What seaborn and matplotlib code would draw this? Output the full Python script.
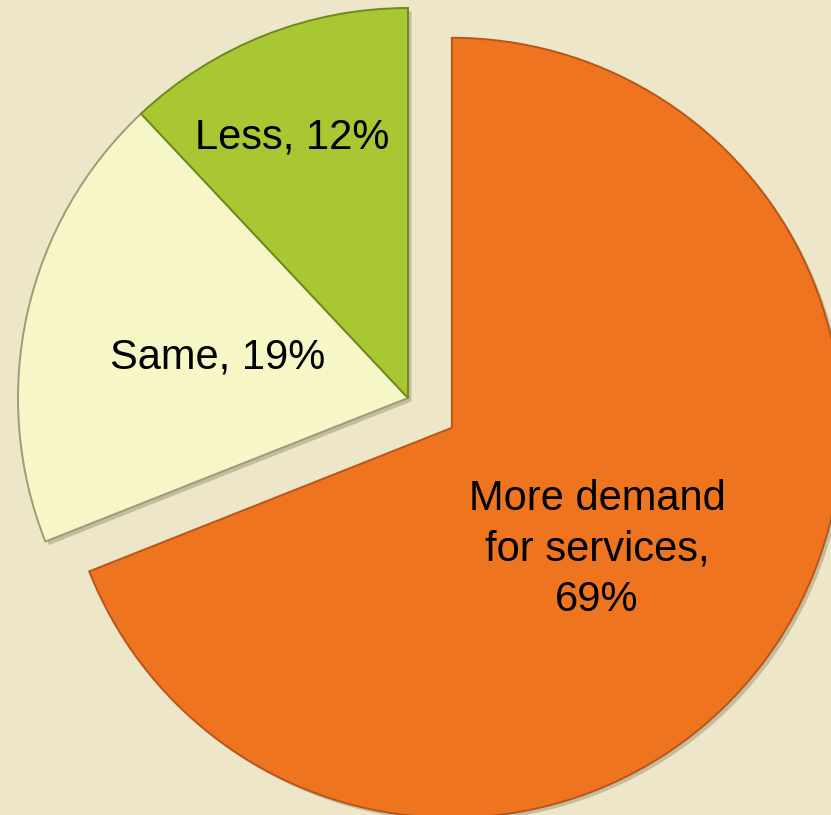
import matplotlib
matplotlib.use("Agg")
import matplotlib.pyplot as plt
import matplotlib.patheffects as pe
import numpy as np
import seaborn as sns

# Survey answers and their shares (percent)
categories = ["More demand\nfor services", "Same", "Less"]
shares = [69, 19, 12]
slice_colors = ["#EF7420", "#F6F6C6", "#A8C733"]
edge_colors = ["#B8561A", "#9A9C7A", "#6E8A1E"]

sns.set_theme(style="white")
plt.rcParams["font.family"] = ["Liberation Sans", "DejaVu Sans"]

bg = "#EEE6C8"
W, H = 831, 815
fig = plt.figure(figsize=(W / 100, H / 100), dpi=100, facecolor=bg)
ax = fig.add_axes([0, 0, 1, 1])
ax.set_facecolor(bg)

radius = 390
center = (408, 417)
explode = [53, 0, 0]

palette = sns.color_palette(slice_colors)
wedges, _ = ax.pie(
    shares,
    colors=palette,
    startangle=90,
    counterclock=False,
    radius=radius,
    center=center,
    explode=explode,
    frame=True,
    wedgeprops=dict(linewidth=1.4),
)
ax.set_xlim(0, W)
ax.set_ylim(0, H)
ax.set_aspect("equal")
ax.axis("off")

for w, ec in zip(wedges, edge_colors):
    w.set_edgecolor(ec)
    w.set_path_effects([
        pe.SimplePatchShadow(offset=(2.5, -2.5), shadow_rgbFace="#7a7050", alpha=0.35),
        pe.Normal(),
    ])

# Label placement relative to each wedge's own centre, in units of radius
label_offsets = [(0.372, -0.312), (-0.487, 0.105), (-0.297, 0.669)]
separators = [",\n", ", ", ", "]
for w, cat, val, sep, (fx, fy) in zip(wedges, categories, shares, separators, label_offsets):
    cx, cy = w.center
    ax.text(cx + fx * radius, cy + fy * radius, f"{cat}{sep}{val}%",
            ha="center", va="center", fontsize=30, color="black",
            linespacing=1.34)

fig.savefig("out.png", dpi=100, facecolor=bg)
